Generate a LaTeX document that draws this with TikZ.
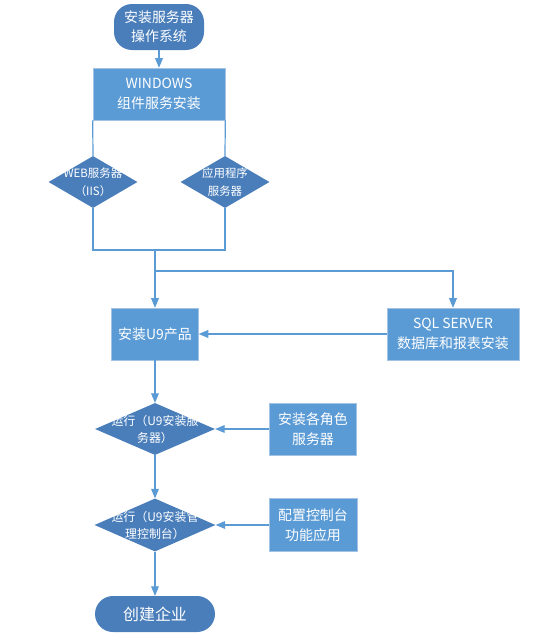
\documentclass[tikz,border=0pt]{standalone}
\usepackage{fontspec}
\setmainfont{Noto Sans CJK SC}
\usepackage{tikz}
\usetikzlibrary{arrows,shapes}

\definecolor{boxblue}{HTML}{5B9BD5}
\definecolor{darkblue}{HTML}{4A7EBB}
\definecolor{edgeblue}{HTML}{A4C2E4}
\definecolor{lineblue}{HTML}{5B9BD5}

\tikzset{
  stepbox/.style={draw=edgeblue,line width=0.6pt,fill=boxblue,text=white,align=center,inner sep=0pt,font=\fontsize{14}{20}\selectfont},
  choice/.style={diamond,fill=darkblue,inner sep=0pt,minimum width=89bp,minimum height=52bp},
  choicetext/.style={text=white,align=center,font=\fontsize{11.5}{18}\selectfont},
  term/.style={rectangle,rounded corners=18bp,fill=darkblue,text=white,align=center,inner sep=0pt},
  flow/.style={draw=lineblue,line width=1.2pt}
}

\begin{document}
\begin{tikzpicture}

\useasboundingbox (0bp,0bp) rectangle (533bp,-640bp);

\node (start) at (159bp,-27bp)[term,minimum width=90bp,minimum height=46bp,font=\fontsize{14}{19}\selectfont] {安装服务器\\操作系统};
\node (win) at (159bp,-94bp)[stepbox,minimum width=132bp,minimum height=52bp] {WINDOWS\\组件服务安装};
\node (web) at (93bp,-182bp)[choice,label={[choicetext]center:WEB服务器\\（IIS）}] {};
\node (app) at (225bp,-182bp)[choice,label={[choicetext]center:应用程序\\服务器}] {};
\node (u9) at (155bp,-334bp)[stepbox,minimum width=87bp,minimum height=52bp] {安装U9产品};
\node (sql) at (453bp,-334bp)[stepbox,minimum width=132bp,minimum height=52bp] {SQL SERVER\\数据库和报表安装};
\node (run1) at (155bp,-429bp)[choice,minimum width=120bp,label={[choicetext,font=\fontsize{12}{17}\selectfont]center:运行（U9安装服\\务器）}] {};
\node (role) at (313bp,-429bp)[stepbox,minimum width=87bp,minimum height=52bp] {安装各角色\\服务器};
\node (run2) at (155bp,-525bp)[choice,minimum width=121bp,minimum height=53bp,label={[choicetext,font=\fontsize{12}{17}\selectfont]center:运行（U9安装管\\理控制台）}] {};
\node (conf) at (313bp,-525bp)[stepbox,minimum width=88bp,minimum height=53bp] {配置控制台\\功能应用};
\node (end) at (155bp,-614bp)[term,minimum width=120bp,minimum height=36bp,font=\fontsize{16}{20}\selectfont] {创建企业};

\coordinate (jl) at (93bp,-250bp);
\coordinate (jr) at (225bp,-250bp);
\coordinate (jm) at (155bp,-250bp);
\coordinate (jb) at (155bp,-271bp);

\draw [flow,-triangle 45] (start) to (win);
\draw [flow] (win.south west) to (web.north);
\draw [flow] (win.south east) to (app.north);
\draw [flow] (web.south) -- (jl) -- (jr) -- (app.south);
\draw [flow,-triangle 45] (jm) to (u9);
\draw [flow,-triangle 45] (jb) -| (sql);
\draw [flow,-triangle 45] (sql) to (u9);
\draw [flow,-triangle 45] (u9) to (run1);
\draw [flow,-triangle 45] (role) to (run1);
\draw [flow,-triangle 45] (run1) to (run2);
\draw [flow,-triangle 45] (conf) to (run2);
\draw [flow,-triangle 45] (run2) to (end);
\end{tikzpicture}
\end{document}
